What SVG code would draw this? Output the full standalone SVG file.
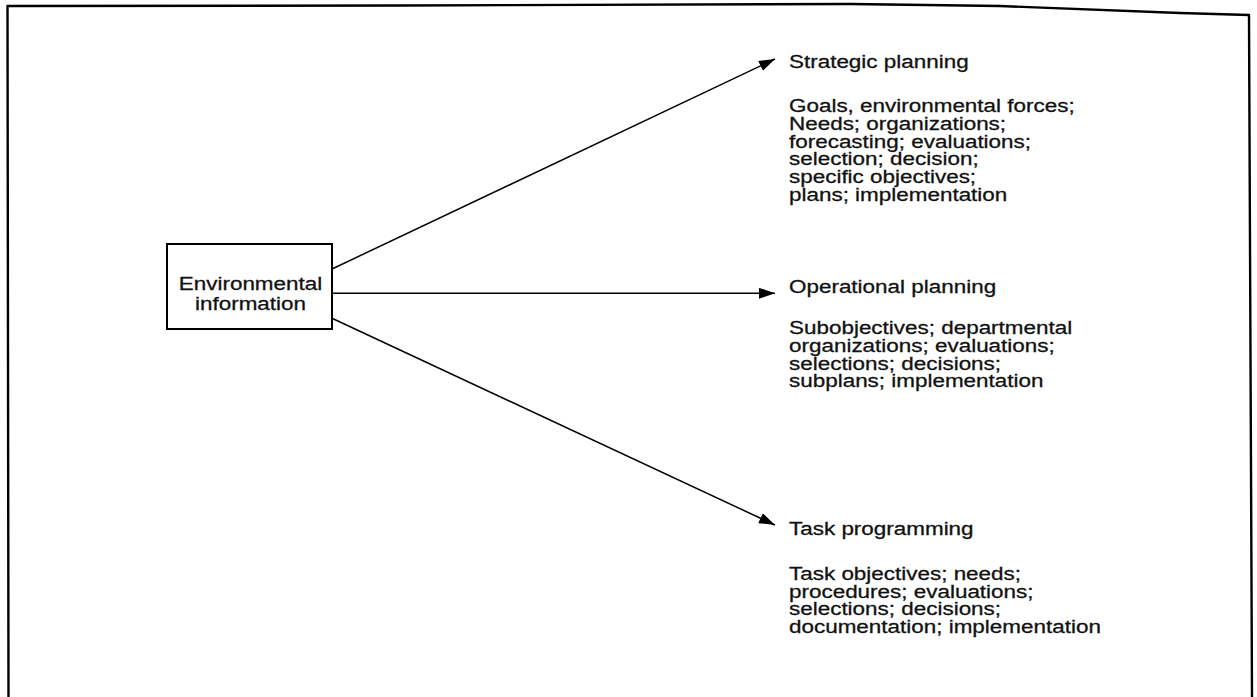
<svg xmlns="http://www.w3.org/2000/svg" width="1257" height="697" viewBox="0 0 1257 697">
  <style>
    .frame { fill: none; stroke: #000; stroke-width: 2.4; stroke-linejoin: round; }
    .box { fill: #fff; stroke: #000; stroke-width: 2; }
    .link { fill: none; stroke: #000; stroke-width: 1.5; }
    text { font-family: "Liberation Sans", Arial, Helvetica, sans-serif; font-size: 19.2px; fill: #111; stroke: #111; stroke-width: 0.3; }
    .mid { text-anchor: middle; }
  </style>
  <defs>
    <marker id="arrow" markerUnits="userSpaceOnUse" markerWidth="16" markerHeight="11" refX="16" refY="5.5" orient="auto">
      <path d="M0,0 L16,5.5 L0,11 z" fill="#000"/>
    </marker>
  </defs>

  <!-- outer frame, open at the bottom -->
  <path class="frame" d="M8.5,697 L7.5,6 L400,5.5 L850,4 L1000,6 L1180,13 L1249,15 L1252,697"/>

  <!-- source node -->
  <g id="env-info">
    <rect class="box" x="167" y="244" width="165" height="85"/>
    <text class="mid" transform="translate(250.5,289.5) scale(1.17,1)">Environmental</text>
    <text class="mid" transform="translate(250.5,310) scale(1.17,1)">information</text>
  </g>

  <!-- connectors -->
  <g id="connectors">
    <line class="link" x1="332" y1="269" x2="775" y2="59" marker-end="url(#arrow)"/>
    <line class="link" x1="332" y1="293.3" x2="775" y2="293.3" marker-end="url(#arrow)"/>
    <line class="link" x1="332" y1="318.3" x2="775" y2="525" marker-end="url(#arrow)"/>
  </g>

  <g id="strategic">
    <text transform="translate(789,67.7) scale(1.17,1)">Strategic planning</text>
    <text transform="translate(789,111.9) scale(1.17,1)">Goals, environmental forces;</text>
    <text transform="translate(789,129.9) scale(1.17,1)">Needs; organizations;</text>
    <text transform="translate(789,147.7) scale(1.17,1)">forecasting; evaluations;</text>
    <text transform="translate(789,165.3) scale(1.17,1)">selection; decision;</text>
    <text transform="translate(789,183) scale(1.17,1)">specific objectives;</text>
    <text transform="translate(789,200.7) scale(1.17,1)">plans; implementation</text>
  </g>

  <g id="operational">
    <text transform="translate(789,292.7) scale(1.17,1)">Operational planning</text>
    <text transform="translate(789,334.3) scale(1.17,1)">Subobjectives; departmental</text>
    <text transform="translate(789,352) scale(1.17,1)">organizations; evaluations;</text>
    <text transform="translate(789,369.7) scale(1.17,1)">selections; decisions;</text>
    <text transform="translate(789,387.3) scale(1.17,1)">subplans; implementation</text>
  </g>

  <g id="task">
    <text transform="translate(789,535) scale(1.17,1)">Task programming</text>
    <text transform="translate(789,580) scale(1.17,1)">Task objectives; needs;</text>
    <text transform="translate(789,597.7) scale(1.17,1)">procedures; evaluations;</text>
    <text transform="translate(789,615.3) scale(1.17,1)">selections; decisions;</text>
    <text transform="translate(789,633) scale(1.17,1)">documentation; implementation</text>
  </g>
</svg>
